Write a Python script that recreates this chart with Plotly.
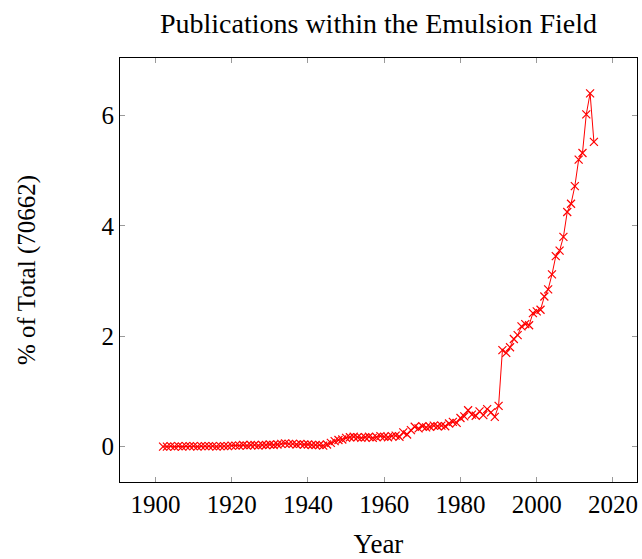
import plotly.graph_objects as go

# Share of emulsion-field publications per year, as % of all 70662 records
years = list(range(1902, 2016))
share = [
    0.00, 0.00, 0.01, 0.00, 0.01, 0.00, 0.01, 0.01, 0.01, 0.00,   # 1902-1911
    0.01, 0.01, 0.01, 0.01, 0.00, 0.01, 0.01, 0.01, 0.02, 0.02,   # 1912-1921
    0.02, 0.03, 0.02, 0.03, 0.03, 0.02, 0.03, 0.03, 0.04, 0.03,   # 1922-1931
    0.04, 0.05, 0.06, 0.05, 0.05, 0.04, 0.05, 0.04, 0.04, 0.03,   # 1932-1941
    0.03, 0.03, 0.02, 0.04, 0.07, 0.10, 0.12, 0.13, 0.16, 0.17,   # 1942-1951
    0.18, 0.17, 0.16, 0.17, 0.18, 0.16, 0.17, 0.19, 0.18, 0.17,   # 1952-1961
    0.19, 0.20, 0.18, 0.26, 0.22, 0.30, 0.36, 0.33, 0.37, 0.35,   # 1962-1971
    0.36, 0.38, 0.37, 0.38, 0.37, 0.42, 0.45, 0.43, 0.52, 0.55,   # 1972-1981
    0.66, 0.58, 0.56, 0.64, 0.57, 0.68, 0.62, 0.54, 0.74, 1.75,   # 1982-1991
    1.70, 1.80, 1.95, 2.02, 2.18, 2.22, 2.20, 2.42, 2.45, 2.48,   # 1992-2001
    2.72, 2.85, 3.12, 3.45, 3.55, 3.80, 4.25, 4.40, 4.72, 5.20,   # 2002-2011
    5.32, 6.02, 6.40, 5.52,                                       # 2012-2015
]

x_ticks = [1900, 1920, 1940, 1960, 1980, 2000, 2020]
y_ticks = [0, 2, 4, 6]

SERIF = "Liberation Serif"

fig = go.Figure()
fig.add_trace(go.Scatter(
    x=years, y=share,
    mode="lines+markers",
    line=dict(color="red", width=1),
    marker=dict(symbol="x-thin-open", size=8, color="red",
                line=dict(color="red", width=1.2)),
    showlegend=False,
))

axis_common = dict(
    showline=True, linecolor="black", linewidth=1, mirror="ticks",
    ticks="inside", ticklen=5, tickcolor="#9a9a9a", tickwidth=1,
    showgrid=False, zeroline=False,
    tickfont=dict(family=SERIF, size=25, color="black"),
)

fig.update_layout(
    width=642, height=559,
    margin=dict(l=120, r=4, t=58, b=71),
    paper_bgcolor="white", plot_bgcolor="white",
    title=dict(text="Publications within the Emulsion Field",
               x=0.5, xref="paper", xanchor="center",
               y=1 - 23 / 559, yanchor="middle",
               font=dict(family=SERIF, size=28, color="black")),
    xaxis=dict(axis_common, range=[1890.7, 2026.3], tickvals=x_ticks,
               title=dict(text="Year", standoff=18,
                          font=dict(family=SERIF, size=27, color="black"))),
    yaxis=dict(axis_common, range=[-0.64, 7.04], tickvals=y_ticks,
               title=dict(text="% of Total (70662)", standoff=58,
                          font=dict(family=SERIF, size=25, color="black"))),
)

fig.write_html("out.html")
